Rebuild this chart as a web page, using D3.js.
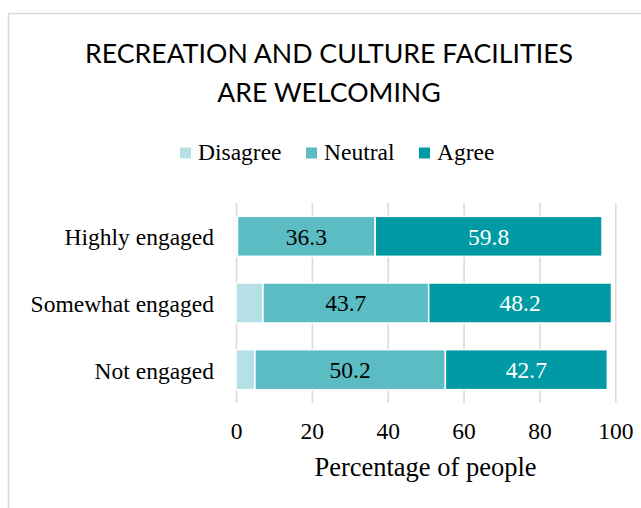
<!DOCTYPE html>
<html>
<head>
<meta charset="utf-8">
<script src="https://cdn.jsdelivr.net/npm/d3@7/dist/d3.min.js"></script>
<style>
  html, body { margin: 0; padding: 0; background: #ffffff; }
  svg { display: block; }
</style>
</head>
<body>
<svg id="chart" width="641" height="508"></svg>
<script>
// Engagement groups, top to bottom
const categories = ["Highly engaged", "Somewhat engaged", "Not engaged"];
// Response series (stacked left to right)
const seriesNames = ["Disagree", "Neutral", "Agree"];
const disagree = [0.4, 7.1, 5.0];
const neutral = [36.3, 43.7, 50.2];
const agree = [59.8, 48.2, 42.7];
const tickValues = [0, 20, 40, 60, 80, 100];

const colors = { Disagree: "#b5e0e5", Neutral: "#5bbcc4", Agree: "#009aa5" };
const labelColors = { Neutral: "#000000", Agree: "#ffffff" };

const rows = categories.map((c, i) => ({
  category: c, Disagree: disagree[i], Neutral: neutral[i], Agree: agree[i]
}));
const stacked = d3.stack().keys(seriesNames)(rows);

const svg = d3.select("#chart");
const serif = "'Liberation Serif', 'Times New Roman', serif";
const textSize = 23.5;

// Chart-area frame
svg.append("rect")
  .attr("x", 8.5).attr("y", 13.5)
  .attr("width", 700).attr("height", 600)
  .attr("fill", "#ffffff")
  .attr("stroke", "#d9d9d9").attr("stroke-width", 1.5);

// Title
const title = svg.append("text")
  .attr("text-anchor", "middle")
  .attr("font-family", "Lato, 'Open Sans', sans-serif")
  .attr("font-size", 26.7)
  .attr("fill", "#000000");
title.append("tspan").attr("x", 329).attr("y", 63).text("RECREATION AND CULTURE FACILITIES");
title.append("tspan").attr("x", 329).attr("y", 101.5).text("ARE WELCOMING");

// Scales
const x = d3.scaleLinear().domain([0, 100]).range([236, 615.3]);
const y = d3.scaleBand().domain(categories).range([203, 403])
  .paddingInner(0.4).paddingOuter(0.2);

// Vertical gridlines
const grid = svg.append("g")
  .attr("transform", "translate(0,403)")
  .call(d3.axisBottom(x).tickValues(tickValues).tickSize(-200).tickFormat(""));
grid.select(".domain").remove();
grid.selectAll("line").attr("stroke", "#d9d9d9").attr("stroke-width", 1.5);

// Stacked bars
const layers = svg.append("g").selectAll("g")
  .data(stacked).join("g")
  .attr("fill", d => colors[d.key]);
layers.selectAll("rect")
  .data(d => d.map(p => ({ p, key: d.key })))
  .join("rect")
  .attr("x", d => x(d.p[0]))
  .attr("y", d => y(d.p.data.category))
  .attr("width", d => x(d.p[1]) - x(d.p[0]))
  .attr("height", y.bandwidth())
  .attr("stroke", "#ffffff")
  .attr("stroke-width", 1.5);

// Value labels for Neutral and Agree segments
const labelLayers = stacked.filter(s => s.key !== "Disagree");
svg.append("g").selectAll("g")
  .data(labelLayers).join("g")
  .attr("fill", d => labelColors[d.key])
  .selectAll("text")
  .data(d => d)
  .join("text")
  .attr("x", p => (x(p[0]) + x(p[1])) / 2)
  .attr("y", p => y(p.data.category) + y.bandwidth() / 2)
  .attr("dy", "0.36em")
  .attr("text-anchor", "middle")
  .attr("font-family", serif)
  .attr("font-size", textSize)
  .text(p => d3.format(".1f")(p[1] - p[0]));

// Category axis
const yAxis = svg.append("g")
  .attr("transform", "translate(236,0)")
  .call(d3.axisLeft(y).tickSize(0).tickPadding(22));
yAxis.select(".domain").remove();
yAxis.selectAll("text")
  .attr("font-family", serif).attr("font-size", textSize)
  .attr("fill", "#000000").attr("dy", "0.38em");

// Value axis
const xAxis = svg.append("g")
  .attr("transform", "translate(0,403)")
  .call(d3.axisBottom(x).tickValues(tickValues).tickSize(0).tickPadding(19.5));
xAxis.select(".domain").remove();
xAxis.selectAll("text")
  .attr("font-family", serif).attr("font-size", textSize).attr("fill", "#000000");

// Axis title
svg.append("text")
  .attr("x", 425.5).attr("y", 476)
  .attr("text-anchor", "middle")
  .attr("font-family", serif).attr("font-size", 26.5)
  .attr("fill", "#000000")
  .text("Percentage of people");

// Legend
const legend = svg.append("g").attr("font-family", serif).attr("font-size", textSize);
let lx = 180;
seriesNames.forEach(name => {
  legend.append("rect")
    .attr("x", lx).attr("y", 147.5)
    .attr("width", 11).attr("height", 11)
    .attr("fill", colors[name]);
  const t = legend.append("text")
    .attr("x", lx + 18).attr("y", 160)
    .attr("fill", "#000000")
    .text(name);
  lx += 18 + t.node().getComputedTextLength() + 24.5;
});
</script>
</body>
</html>
